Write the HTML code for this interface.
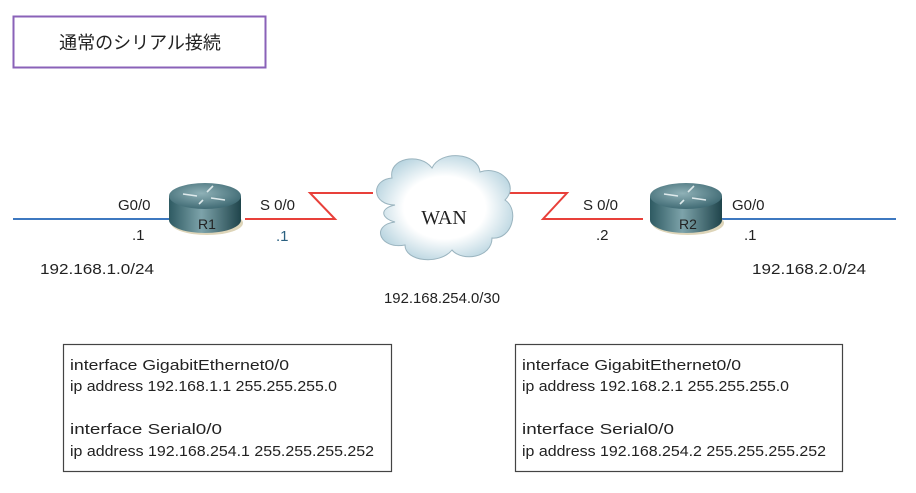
<!DOCTYPE html>
<html><head><meta charset="utf-8"><style>
body{margin:0;background:#fff;}
svg text{font-family:"Liberation Sans","Noto Sans CJK JP",sans-serif;fill:#222;}
</style></head><body>
<svg width="916" height="488" viewBox="0 0 916 488" xmlns="http://www.w3.org/2000/svg">
<defs>
<linearGradient id="rb" x1="0" x2="1" y1="0" y2="0">
<stop offset="0" stop-color="#2e5a62"/><stop offset="0.45" stop-color="#7da3aa"/><stop offset="1" stop-color="#1f444b"/></linearGradient>
<radialGradient id="rt" cx="0.45" cy="0.4" r="0.7">
<stop offset="0" stop-color="#8fb1b7"/><stop offset="1" stop-color="#34606a"/></radialGradient>
<radialGradient id="cg" cx="0.5" cy="0.5" r="0.6">
<stop offset="0.5" stop-color="#ffffff"/><stop offset="1" stop-color="#a9cbd9"/></radialGradient>
<g id="router">
<ellipse cx="2" cy="17" rx="36" ry="12" fill="#c8b98a" opacity="0.6"/>
<path d="M-36 -10 L-36 14 A36 13 0 0 0 36 14 L36 -10 Z" fill="url(#rb)"/>
<ellipse cx="0" cy="-10" rx="36" ry="13" fill="url(#rt)"/>
<g stroke="#dfeaec" stroke-width="1.6" fill="none">
<path d="M-22 -12 L-8 -10"/><path d="M8 -20 L2 -14"/><path d="M6 -8 L20 -6"/><path d="M-6 -2 L-2 -6"/>
</g>
</g>
</defs>
<rect x="13.5" y="16.5" width="252" height="51" fill="#fff" stroke="#8a62b8" stroke-width="2"/>
<text x="140" y="49" font-size="18" text-anchor="middle">通常のシリアル接続</text>

<line x1="13" y1="219" x2="178" y2="219" stroke="#3d78c0" stroke-width="2"/>
<line x1="722" y1="219" x2="896" y2="219" stroke="#3d78c0" stroke-width="2"/>
<polyline points="245,219 335,219 310,193 373,193" fill="none" stroke="#e8403a" stroke-width="2"/>
<polyline points="503,193 567,193 543,219 643,219" fill="none" stroke="#e8403a" stroke-width="2"/>

<g transform="translate(205,206)"><use href="#router"/></g>
<text x="207" y="229" font-size="14" text-anchor="middle">R1</text>
<g transform="translate(686,206)"><use href="#router"/></g>
<text x="688" y="229" font-size="14" text-anchor="middle">R2</text>

<g fill="url(#cg)" stroke="#9ab4bf" stroke-width="1">
<path d="M395 205 C372 205 370 180 392 178 C388 158 420 152 432 168 C440 150 478 152 480 172 C500 165 520 185 505 200 C520 210 512 240 492 238 C492 258 462 262 452 250 C440 265 405 262 405 245 C380 250 370 225 395 222 C380 218 380 208 395 205 Z"/>
</g>
<text x="444" y="224" font-size="20" text-anchor="middle" style="font-family:'Liberation Serif',serif">WAN</text>

<g font-size="15">
<text x="118" y="210">G0/0</text>
<text x="132" y="240">.1</text>
<text x="260" y="210">S 0/0</text>
<text x="276" y="241" style="fill:#2a6080">.1</text>
<text x="583" y="210">S 0/0</text>
<text x="596" y="240">.2</text>
<text x="732" y="210">G0/0</text>
<text x="744" y="240">.1</text>
<text x="40" y="274" textLength="114" lengthAdjust="spacingAndGlyphs">192.168.1.0/24</text>
<text x="752" y="274" textLength="114" lengthAdjust="spacingAndGlyphs">192.168.2.0/24</text>
<text x="384" y="303" textLength="116" lengthAdjust="spacingAndGlyphs">192.168.254.0/30</text>
</g>

<rect x="63.5" y="344.5" width="328" height="127" fill="#fff" stroke="#444" stroke-width="1.2"/>
<g font-size="15">
<text x="70" y="370" textLength="219" lengthAdjust="spacingAndGlyphs">interface GigabitEthernet0/0</text>
<text x="70" y="391" textLength="267" lengthAdjust="spacingAndGlyphs">ip address 192.168.1.1 255.255.255.0</text>
<text x="70" y="434" textLength="152" lengthAdjust="spacingAndGlyphs">interface Serial0/0</text>
<text x="70" y="456" textLength="304" lengthAdjust="spacingAndGlyphs">ip address 192.168.254.1 255.255.255.252</text>
</g>
<rect x="515.5" y="344.5" width="327" height="127" fill="#fff" stroke="#444" stroke-width="1.2"/>
<g font-size="15">
<text x="522" y="370" textLength="219" lengthAdjust="spacingAndGlyphs">interface GigabitEthernet0/0</text>
<text x="522" y="391" textLength="267" lengthAdjust="spacingAndGlyphs">ip address 192.168.2.1 255.255.255.0</text>
<text x="522" y="434" textLength="152" lengthAdjust="spacingAndGlyphs">interface Serial0/0</text>
<text x="522" y="456" textLength="304" lengthAdjust="spacingAndGlyphs">ip address 192.168.254.2 255.255.255.252</text>
</g>
</svg>
</body></html>
